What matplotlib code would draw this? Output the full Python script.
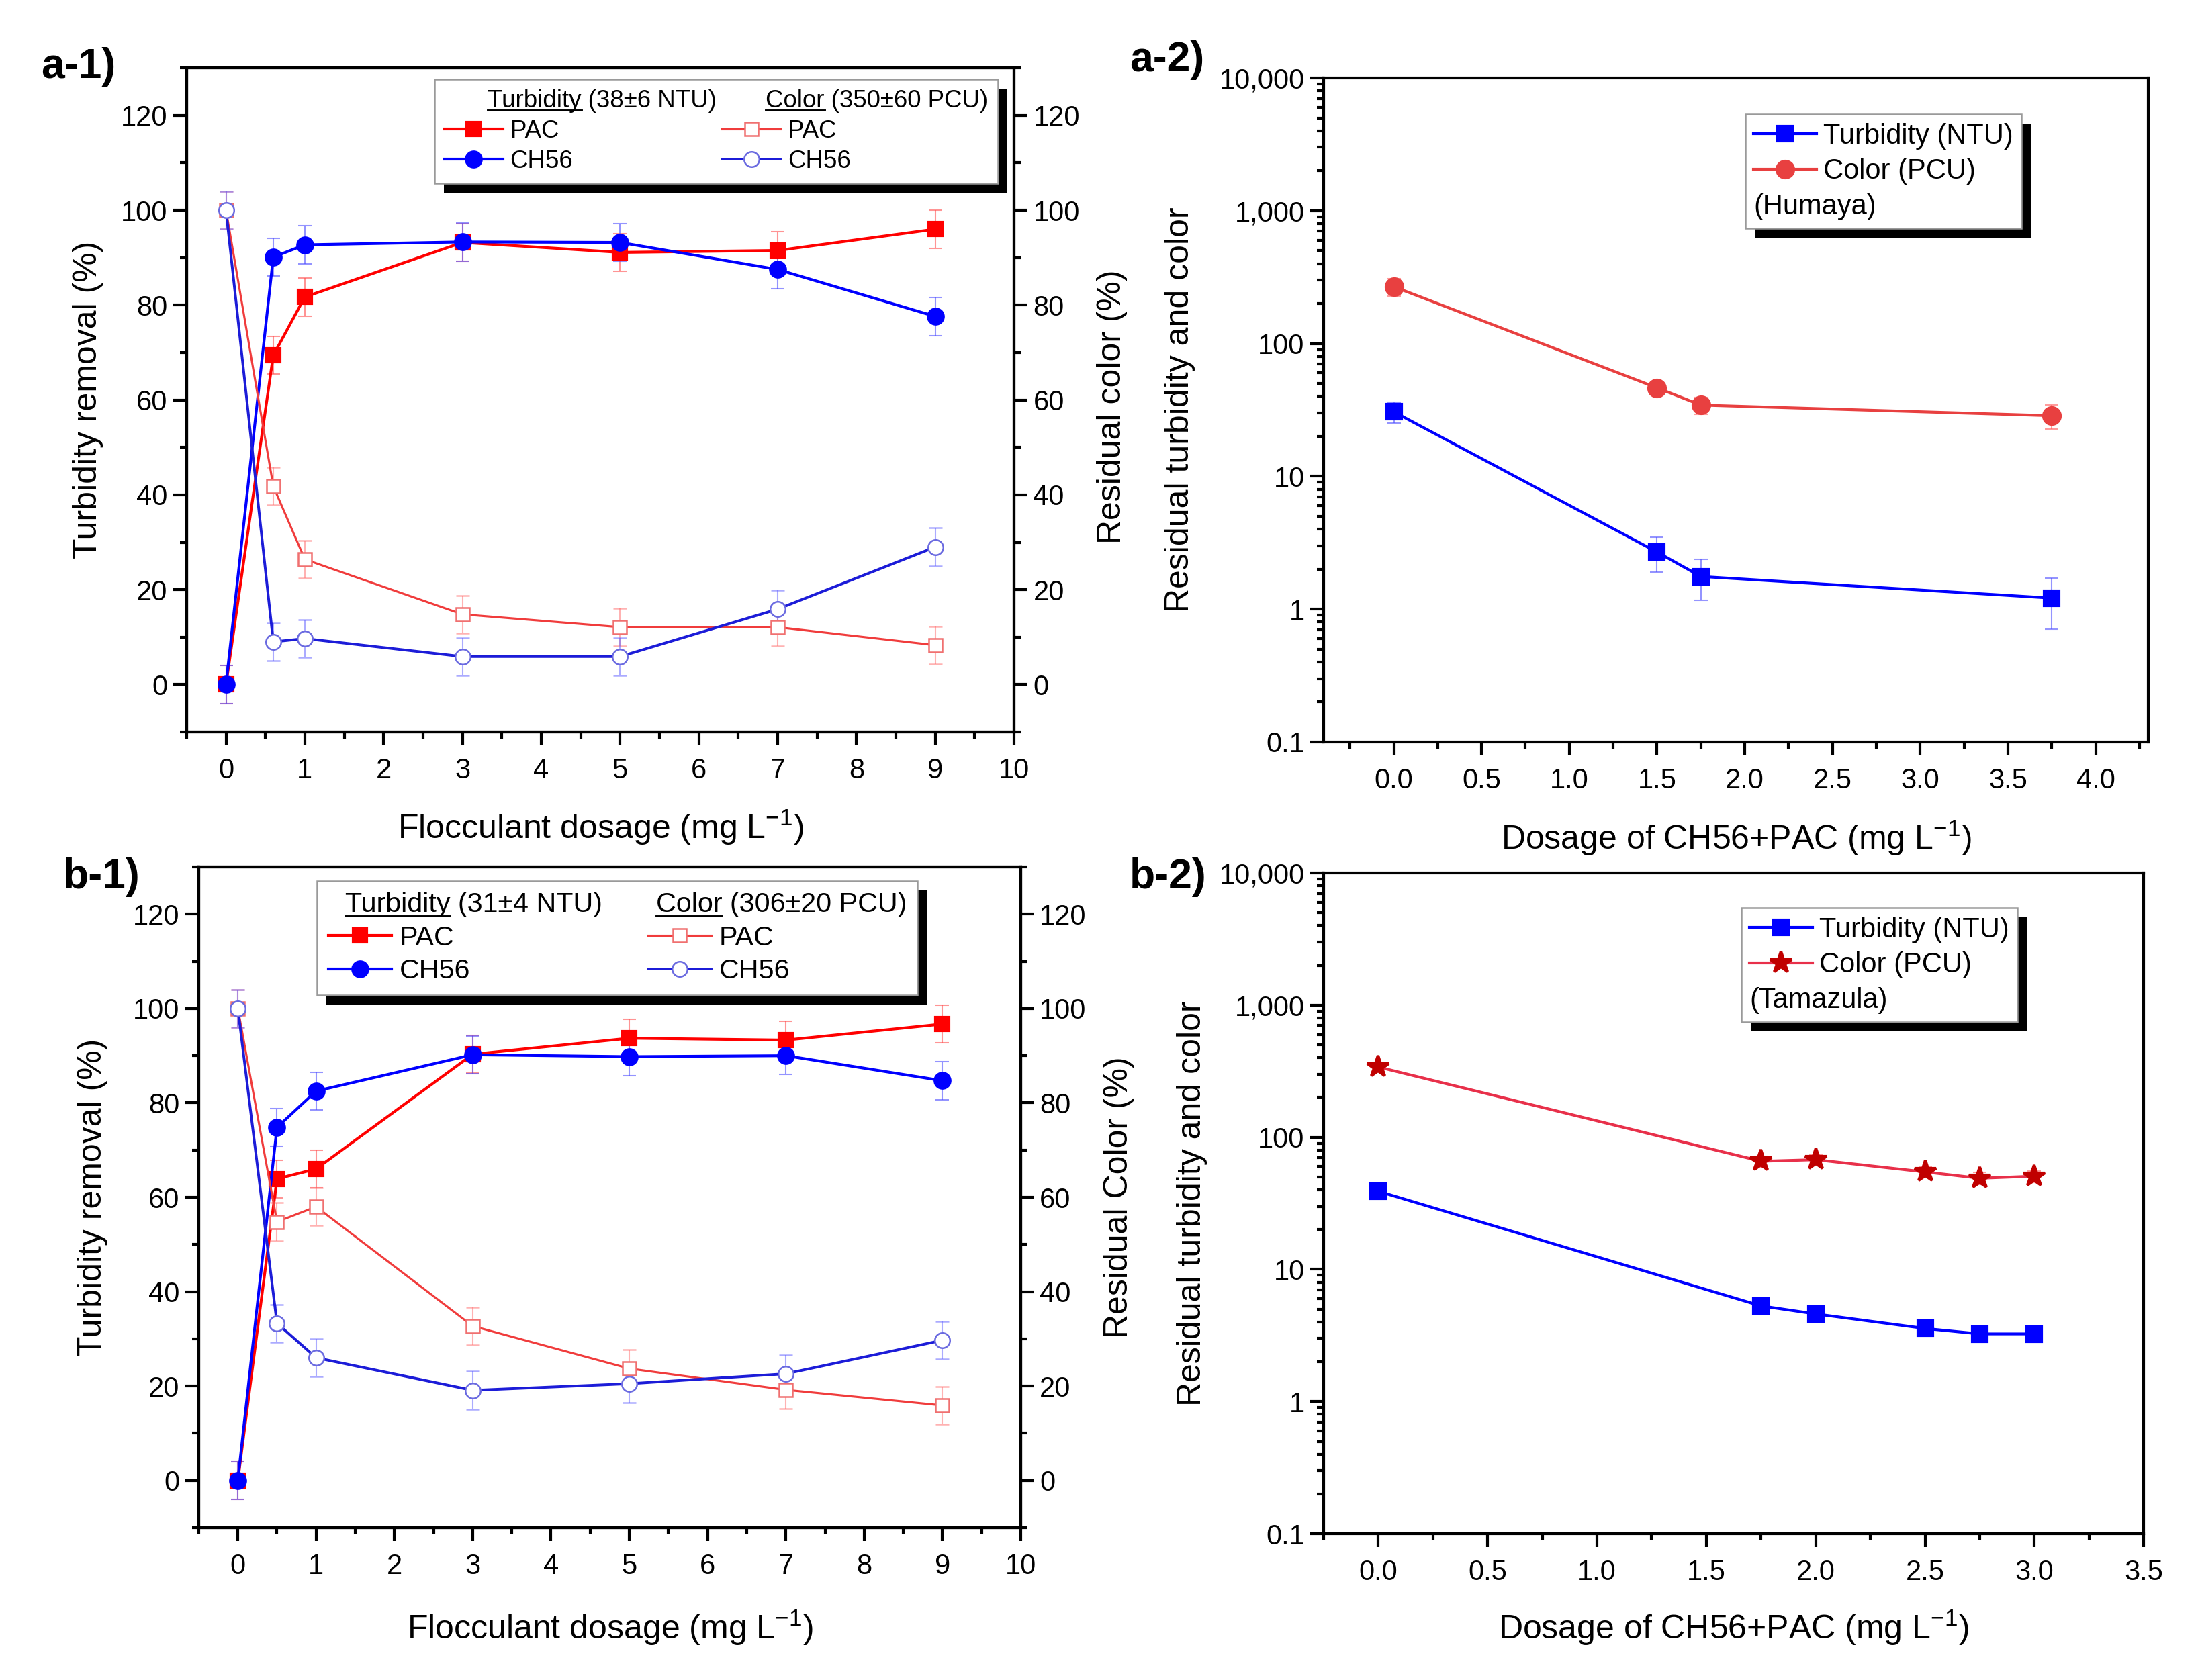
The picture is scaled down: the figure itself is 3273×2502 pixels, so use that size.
import matplotlib
matplotlib.use('Agg')
import matplotlib.pyplot as plt
import matplotlib.ticker as mticker
import matplotlib.patheffects as pe
from matplotlib.lines import Line2D
import numpy as np

plt.rcParams['font.family'] = ['Liberation Sans', 'DejaVu Sans']
plt.rcParams['mathtext.fontset'] = 'custom'
plt.rcParams['mathtext.rm'] = 'Liberation Sans'
plt.rcParams['mathtext.it'] = 'Liberation Sans:italic'
plt.rcParams['mathtext.bf'] = 'Liberation Sans:bold'

# ---- data: a-1 (Humaya, single flocculants)
dose_a1 = [0, 0.6, 1, 3, 5, 7, 9]
turb_pac_a1 = [0, 69.4, 81.7, 93.2, 91.1, 91.5, 96.0]
turb_ch_a1 = [0, 90.1, 92.7, 93.3, 93.2, 87.5, 77.6]
color_pac_a1 = [100, 41.8, 26.4, 14.8, 12.1, 12.1, 8.3]
color_ch_a1 = [100, 9.0, 9.7, 5.9, 5.9, 15.9, 29.0]
err_a1 = [4, 4, 4, 4, 4, 4, 4]

# ---- data: b-1 (Tamazula, single flocculants)
dose_b1 = [0, 0.5, 1, 3, 5, 7, 9]
turb_pac_b1 = [0, 63.9, 66.0, 90.3, 93.7, 93.3, 96.7]
turb_ch_b1 = [0, 74.8, 82.5, 90.2, 89.8, 90.0, 84.7]
color_pac_b1 = [100, 54.8, 58.0, 32.7, 23.7, 19.2, 15.9]
color_ch_b1 = [100, 33.3, 26.0, 19.1, 20.5, 22.6, 29.7]
err_b1 = [4, 4, 4, 4, 4, 4, 4]

# ---- data: a-2 (Humaya, CH56+PAC)
dose_a2 = [0, 1.5, 1.75, 3.75]
turb_a2 = [30.6, 2.69, 1.76, 1.21]
turb_err_a2 = [5.4, 0.78, 0.6, 0.5]
color_a2 = [268, 46.4, 34.4, 28.6]
color_err_a2 = [40, 5, 5, 6]

# ---- data: b-2 (Tamazula, CH56+PAC)
dose_b2 = [0, 1.75, 2, 2.5, 2.75, 3]
turb_b2 = [39.0, 5.29, 4.60, 3.57, 3.25, 3.25]
turb_err_b2 = [4, 0.6, 0.5, 0.4, 0.4, 0.4]
color_b2 = [340, 65.8, 67.6, 54.6, 48.9, 50.7]
color_err_b2 = [25, 6, 6, 5, 5, 5]

TICK_FS = 10
LABEL_FS = 12
RED = '#ff0000'
BLUE = '#0000ff'

fig = plt.figure(figsize=(10.91, 8.34), dpi=300)


def style_ticks(ax):
    ax.tick_params(which='major', direction='out', length=4.8, width=1.0, labelsize=TICK_FS)
    ax.tick_params(which='minor', direction='out', length=2.4, width=1.0)
    ax.tick_params(axis='x', which='major', pad=4.3)
    ax.tick_params(axis='y', which='major', pad=2.0)
    for s in ax.spines.values():
        s.set_linewidth(1.0)


def shadow_legend(leg, lw=0.6):
    fr = leg.get_frame()
    fr.set_edgecolor('#9a9a9a')
    fr.set_linewidth(lw)
    fr.set_path_effects([pe.SimplePatchShadow(offset=(3.4, -3.4), shadow_rgbFace='black', alpha=1.0),
                         pe.Normal()])


def legend_rows(leg):
    rows = []
    for col in leg._legend_handle_box.get_children():
        rows.extend(col.get_children())
    return rows


def set_indent(row, frac, sep=None):
    row.get_children()[0].width *= frac
    if sep is not None:
        row.sep = sep


def removal_panel(ax, x, tp, tc, cp, cc, err, heads, right_label, leg_pos, leg_fs,
                  hl, htp, cs, head_fracs):
    ax2 = ax.twinx()
    l_tp = ax.errorbar(x, tp, yerr=err, color=RED, marker='s', ms=5.0, lw=1.0,
                       ecolor=(1, 0.3, 0.3, 0.6), elinewidth=0.5, capsize=2.4, capthick=0.5)[0]
    l_tc = ax.errorbar(x, tc, yerr=err, color=BLUE, marker='o', ms=5.4, lw=1.0,
                       ecolor=(0.3, 0.3, 1, 0.6), elinewidth=0.5, capsize=2.4, capthick=0.5)[0]
    l_cp = ax2.errorbar(x, cp, yerr=err, color='#f03c3c', marker='s', ms=5.0, lw=0.75,
                        mfc='white', mec='#f07070', mew=0.6,
                        ecolor=(1, 0.45, 0.45, 0.55), elinewidth=0.5, capsize=2.4, capthick=0.5)[0]
    l_cc = ax2.errorbar(x, cc, yerr=err, color='#1c1cd8', marker='o', ms=5.4, lw=0.95,
                        mfc='white', mec='#6a6ae0', mew=0.6,
                        ecolor=(0.4, 0.4, 1, 0.55), elinewidth=0.5, capsize=2.4, capthick=0.5)[0]
    for a in (ax, ax2):
        a.set_xlim(-0.5, 10)
        a.set_ylim(-10, 130)
        a.yaxis.set_major_locator(mticker.MultipleLocator(20))
        a.yaxis.set_minor_locator(mticker.MultipleLocator(10))
        style_ticks(a)
    ax.xaxis.set_major_locator(mticker.MultipleLocator(1))
    ax.xaxis.set_minor_locator(mticker.MultipleLocator(0.5))
    ax.tick_params(top=False, right=False, which='both')
    ax2.tick_params(top=False, which='both')
    ax.set_xlabel(r'Flocculant dosage (mg L$^{-1}$)', fontsize=LABEL_FS)
    ax.set_ylabel('Turbidity removal (%)', fontsize=LABEL_FS)
    ax2.set_ylabel(right_label, fontsize=LABEL_FS)

    blank = Line2D([], [], linestyle='none')
    leg = ax2.legend([blank, l_tp, l_tc, blank, l_cp, l_cc],
                     [heads[0], 'PAC', 'CH56', heads[1], 'PAC', 'CH56'],
                     ncol=2, loc='upper left', bbox_to_anchor=leg_pos, borderaxespad=0,
                     fontsize=leg_fs, numpoints=1, fancybox=False, framealpha=1,
                     handlelength=hl, handletextpad=htp, columnspacing=cs,
                     labelspacing=0.28, borderpad=0.4)
    shadow_legend(leg)
    rows = legend_rows(leg)
    set_indent(rows[0], head_fracs[0])
    set_indent(rows[3], head_fracs[1])
    return ax2, leg


def residual_panel(ax, x, t, terr, c, cerr, cmarker, ccolor, cline, cms, site, leg_pos, xlim):
    l_t = ax.errorbar(x, t, yerr=terr, color=BLUE, marker='s', ms=5.5, lw=1.0,
                      ecolor=(0.3, 0.3, 1, 0.6), elinewidth=0.5, capsize=2.4, capthick=0.5)[0]
    l_c = ax.errorbar(x, c, yerr=cerr, color=cline, marker=cmarker, ms=cms, lw=1.0,
                      mfc=ccolor, mec=ccolor,
                      ecolor=(1, 0.35, 0.35, 0.6), elinewidth=0.5, capsize=2.4, capthick=0.5)[0]
    ax.set_yscale('log')
    ax.set_ylim(0.1, 10000)
    ax.set_xlim(*xlim)
    ax.yaxis.set_major_locator(mticker.LogLocator(base=10, numticks=10))
    ax.yaxis.set_minor_locator(mticker.LogLocator(base=10, subs=np.arange(2, 10), numticks=20))
    ax.yaxis.set_major_formatter(mticker.FuncFormatter(
        lambda v, p: f'{v:,.0f}' if v >= 1 else f'{v:g}'))
    ax.yaxis.set_minor_formatter(mticker.NullFormatter())
    ax.xaxis.set_major_locator(mticker.MultipleLocator(0.5))
    ax.xaxis.set_minor_locator(mticker.MultipleLocator(0.25))
    ax.xaxis.set_major_formatter(mticker.FormatStrFormatter('%.1f'))
    style_ticks(ax)
    ax.tick_params(top=False, right=False, which='both')
    ax.set_xlabel(r'Dosage of CH56+PAC (mg L$^{-1}$)', fontsize=LABEL_FS)
    ax.set_ylabel('Residual turbidity and color', fontsize=LABEL_FS)

    blank = Line2D([], [], linestyle='none')
    leg = ax.legend([l_t, l_c, blank], ['Turbidity (NTU)', 'Color (PCU)', site],
                    loc='upper left', bbox_to_anchor=leg_pos, borderaxespad=0,
                    fontsize=10, numpoints=1, fancybox=False, framealpha=1,
                    handlelength=2.25, handletextpad=0.25, labelspacing=0.3, borderpad=0.3)
    shadow_legend(leg)
    set_indent(legend_rows(leg)[2], 0.0, sep=0)
    return leg


def label_at(axis_obj, x, y):
    axis_obj.label.set_va('center')
    axis_obj.set_label_coords(x, y)


# ---- a-1
ax_a1 = fig.add_axes([0.0849, 0.5643, 0.3765, 0.3953])
ax_a1r, leg_a1 = removal_panel(ax_a1, dose_a1, turb_pac_a1, turb_ch_a1, color_pac_a1, color_ch_a1, err_a1,
                               ['Turbidity (38±6 NTU)', 'Color (350±60 PCU)'], 'Residual color (%)',
                               (0.2995, 0.983), 8.8, 2.37, 0.3, 0.22, (0.62, 0.62))
label_at(ax_a1.xaxis, 0.5, -0.1436)
label_at(ax_a1.yaxis, -0.119, 0.5)
label_at(ax_a1r.yaxis, 1.1185, 0.49)

# ---- b-1
ax_b1 = fig.add_axes([0.0904, 0.0907, 0.3740, 0.3933])
ax_b1r, leg_b1 = removal_panel(ax_b1, dose_b1, turb_pac_b1, turb_ch_b1, color_pac_b1, color_ch_b1, err_b1,
                               ['Turbidity (31±4 NTU)', 'Color (306±20 PCU)'], 'Residual Color (%)',
                               (0.144, 0.979), 9.9, 2.28, 0.29, 1.65, (0.14, 0.0))
label_at(ax_b1.xaxis, 0.5, -0.1514)
label_at(ax_b1.yaxis, -0.129, 0.5)
label_at(ax_b1r.yaxis, 1.119, 0.5)

# ---- a-2
ax_a2 = fig.add_axes([0.6022, 0.5584, 0.3752, 0.3952])
leg_a2 = residual_panel(ax_a2, dose_a2, turb_a2, turb_err_a2, color_a2, color_err_a2,
                        'o', '#e84040', '#e84040', 6.0, '(Humaya)', (0.511, 0.945), (-0.4, 4.3))
label_at(ax_a2.xaxis, 0.5, -0.1446)
label_at(ax_a2.yaxis, -0.174, 0.5)

# ---- b-2
ax_b2 = fig.add_axes([0.6022, 0.0871, 0.3731, 0.3933])
leg_b2 = residual_panel(ax_b2, dose_b2, turb_b2, turb_err_b2, color_b2, color_err_b2,
                        '*', '#c00000', '#e8304a', 8.0, '(Tamazula)', (0.509, 0.947), (-0.25, 3.5))
label_at(ax_b2.xaxis, 0.5, -0.1423)
label_at(ax_b2.yaxis, -0.1605, 0.5)

# panel letters
for txt, x, y in [('a-1)', 0.0186, 0.9536), ('a-2)', 0.5139, 0.9576),
                  ('b-1)', 0.0287, 0.4712), ('b-2)', 0.5139, 0.4712)]:
    fig.text(x, y, txt, fontsize=15, fontweight='bold', va='baseline', ha='left')

# underline the header words of the removal legends
fig.canvas.draw()
renderer = fig.canvas.get_renderer()
W, H = fig.bbox.width, fig.bbox.height
for leg in (leg_a1, leg_b1):
    texts = leg.get_texts()
    for t in (texts[0], texts[3]):
        word = t.get_text().split(' ')[0]
        prop = t.get_fontproperties()
        bb = t.get_window_extent(renderer)
        w_word, _, _ = renderer.get_text_width_height_descent(word, prop, ismath=False)
        _, _, d_full = renderer.get_text_width_height_descent(t.get_text(), prop, ismath=False)
        _, _, d_lp = renderer.get_text_width_height_descent('lp', prop, ismath=False)
        base = bb.y0 + max(d_full, d_lp)
        y = base - 0.13 * renderer.points_to_pixels(prop.get_size_in_points())
        fig.add_artist(Line2D([bb.x0 / W, (bb.x0 + w_word) / W], [y / H, y / H],
                              transform=fig.transFigure, color='black', lw=0.7))

fig.savefig('out.png', dpi=300)
